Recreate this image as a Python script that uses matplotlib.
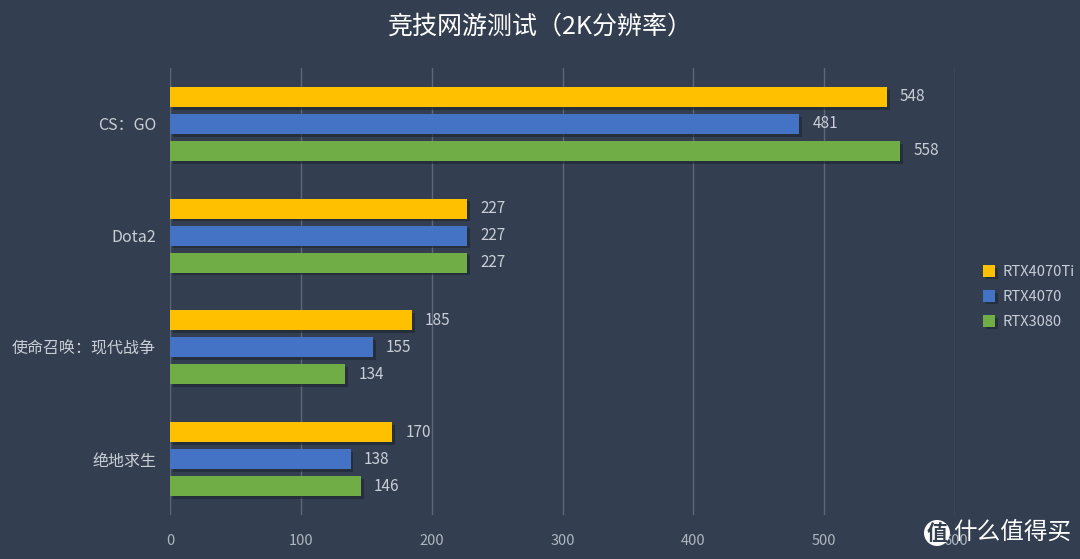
import matplotlib
matplotlib.use("Agg")
import matplotlib.pyplot as plt
import matplotlib.patheffects as pe
import numpy as np

plt.rcParams['font.family'] = ['Noto Sans CJK SC', 'DejaVu Sans']

categories = ["CS：GO", "Dota2", "使命召唤：现代战争", "绝地求生"]
series_names = ["RTX4070Ti", "RTX4070", "RTX3080"]
rtx4070ti = [548, 227, 185, 170]
rtx4070 = [481, 227, 155, 138]
rtx3080 = [558, 227, 134, 146]
colors = ["#FFC000", "#4472C4", "#70AD47"]
xticks = [0, 100, 200, 300, 400, 500, 600]

bg = "#333F50"
fig = plt.figure(figsize=(10.8, 5.59), dpi=100, facecolor=bg)
ax = fig.add_axes([170/1080, 1-515/559, (955-170)/1080, (515-68)/559])
ax.set_facecolor(bg)

y = np.arange(len(categories))
step = 27/112
h = 20/112
shadow = [pe.SimplePatchShadow(offset=(2, -2), shadow_rgbFace="#1c232d", alpha=0.6), pe.Normal()]
for i, (vals, c) in enumerate(zip([rtx4070ti, rtx4070, rtx3080], colors)):
    pos = y + (i - 1) * step
    bars = ax.barh(pos, vals, height=h, color=c, label=series_names[i], zorder=3)
    for b in bars:
        b.set_path_effects(shadow)
    for p, v in zip(pos, vals):
        ax.text(v + 10, p, str(v), va='center', ha='left', color="#c9ced6", fontsize=11, zorder=4)

ax.set_xlim(0, 600)
ax.set_ylim(len(categories) - 0.5, -0.5)
ax.set_xticks(xticks)
ax.set_xticklabels([str(t) for t in xticks])
ax.set_yticks(y)
ax.set_yticklabels(categories)
ax.tick_params(axis='both', length=0, colors="#aeb6c1", labelsize=10.5)
ax.tick_params(axis='x', pad=14)
ax.tick_params(axis='y', pad=10, labelcolor="#c9ced6", labelsize=11.5)
ax.grid(axis='x', color="#5d6775", linewidth=1, zorder=0)
ax.axvline(0, color="#6b7482", linewidth=1.2, zorder=1)
for s in ax.spines.values():
    s.set_visible(False)

leg = fig.legend(loc='upper left', bbox_to_anchor=(970/1080, 1-252/559), frameon=False,
                 fontsize=10.5, labelcolor="#c9ced6", handlelength=0.8, handleheight=0.8,
                 handletextpad=0.5, labelspacing=0.75)

fig.text(0.5, 1-27/559, "竞技网游测试（2K分辨率）", ha='center', va='center', color='white',
         fontsize=18, fontweight='medium')

# watermark
fig.text(937/1080, 1-533/559, "值", ha='center', va='center', color='#333F50', fontsize=15,
         fontweight='bold',
         bbox=dict(boxstyle='circle,pad=0.12', facecolor='white', edgecolor='none'))
fig.text(953/1080, 1-533/559, "什么值得买", ha='left', va='center', color='white', fontsize=17)

fig.savefig("out.png", dpi=100, facecolor=bg)
